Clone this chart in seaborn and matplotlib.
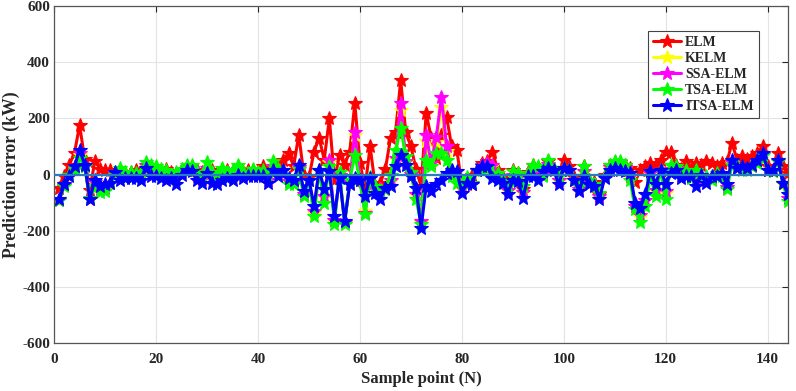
import numpy as np
import pandas as pd
import seaborn as sns
import matplotlib.pyplot as plt

# prediction errors (kW), sample points 1..144
elm = [-47, -5, 35, 78, 175, 55, -55, 50, 20, 15, 15, 0, 10, 5, 10, 15, 15, 20, 15, 15,
       15, 20, 10, 5, 15, 25, 15, 15, 10, 10, 15, 5, 10, 15, 10, 20, 10, 15, 15, 10,
       30, 5, 25, 35, 53, 76, 30, 141, 0, -10, 82, 130, 53, 200, -20, 70, 35, 82, 253, 41,
       -47, 100, -40, -30, 20, 129, 153, 335, 150, 100, 20, -41, 218, 130, 60, 140, 206, 100, 88, -35,
       -35, 0, 18, 41, 47, 82, 18, -10, -30, 15, 5, -50, 10, 35, 25, 10, 50, 20, -20, 53,
       30, -10, -40, 30, -20, -25, -70, 0, 35, 45, 45, 35, 25, -25, 15, 30, 41, 35, 53, 82,
       82, 35, 20, 47, 20, 41, 35, 47, 40, 30, 40, 45, 112, 53, 65, 55, 65, 76, 100, 30,
       12, 76, 30, 6]

kelm = [-90, -38, -3, 24, 70, 30, -86, -30, -52, -50, -30, 4, 4, 0, 0, -4, -5, 32, 14, 10,
        3, -3, -7, -14, 8, 24, 22, -6, -16, 22, -12, -20, 2, -2, -4, 15, -2, -2, 6, 2,
        3, -20, 30, 6, 14, -26, -28, 25, -70, -20, -135, 14, -80, 45, -165, -2, -172, -30, 140, -20,
        -130, -12, -55, -52, -52, -22, 55, 230, 45, 0, -72, -170, 120, 35, 115, 240, 85, 4, -12, -50,
        -22, -34, 16, 30, 34, 30, -8, -27, -58, -5, -12, -64, -2, 13, 4, 2, 35, 18, -22, 22,
        16, -20, -52, 10, -28, -40, -80, -10, 24, 33, 30, 22, -8, -112, -150, -92, 2, -58, 16, -64,
        18, 22, -5, 4, -10, -15, -5, -20, -14, -2, -2, -46, 40, 25, 22, 20, 30, 45, 72, 16,
        14, 48, -32, -85]

ssa_elm = [-90, -38, -3, 25, 75, 32, -86, -28, -50, -48, -30, 5, 5, 0, 0, -3, -4, 35, 15, 12,
           4, -2, -6, -12, 10, 26, 24, -4, -15, 25, -10, -18, 4, 0, -2, 18, 0, 0, 8, 3,
           5, -18, 32, 8, 16, -24, -26, 28, -68, -19, -130, 16, -76, 53, -162, 0, -170, -28, 153, -19,
           -135, -11, -53, -50, -50, -20, 60, 253, 50, 2, -68, -165, 141, 40, 135, 276, 100, 6, -9, -48,
           -20, -32, 18, 35, 40, 35, -6, -25, -55, -3, -10, -61, 0, 15, 6, 3, 38, 19, -20, 24,
           18, -18, -50, 12, -26, -38, -76, -8, 26, 35, 32, 24, -6, -110, -145, -90, 4, -55, 18, -60,
           20, 24, -3, 6, -8, -12, -3, -18, -12, 0, 0, -44, 44, 27, 24, 21, 32, 47, 73, 18,
           15, 50, -30, -82]

tsa_elm = [-92, -40, 0, 20, 60, 30, -85, -40, -62, -60, -30, 0, 25, 10, 10, 5, 10, 45, 35, 30,
           20, 15, 0, 10, 20, 35, 35, 10, 0, 45, 10, 0, 25, 10, 15, 35, 10, 5, 20, 10,
           15, -5, 47, 20, 15, -35, -35, 20, -76, -20, -147, 15, -100, 30, -176, 10, -176, -20, 70, -20,
           -141, -10, -41, -60, -53, 0, 88, 165, 65, 10, -88, -175, 53, 30, 76, 76, 53, -5, -30, -30,
           -10, -30, 18, 18, 24, 5, 5, -20, -41, 12, 5, -40, 5, 35, 30, -5, 53, 20, -5, 24,
           18, -18, -41, 30, -18, -35, -65, -5, 35, 47, 47, 35, -18, -123, -170, -112, -5, -76, 18, -88,
           35, 30, 5, 18, -12, 18, -5, -5, -18, 5, -5, -53, 35, 30, 18, 18, 30, 41, 70, 18,
           12, 47, -30, -94]

itsa_elm = [-88, -35, -5, 30, 88, 35, -88, -18, -40, -35, -30, 10, -18, -12, -12, -12, -18, 24, -5, -5,
            -12, -18, -12, -35, 0, 18, 12, -18, -30, 5, -30, -35, -18, -12, -18, 0, -12, -5, -5, -5,
            -5, -30, 18, -5, 18, -12, -18, 35, -60, -18, -112, 18, -53, 12, -147, -12, -165, -35, -12, -18,
            -76, -12, -65, -88, -47, -41, 30, 70, 35, -5, -47, -190, -41, -59, -35, -18, 5, 18, 12, -65,
            -30, -35, 18, 30, 30, -12, -18, -30, -70, -18, -24, -82, -5, -5, -18, 12, 24, 18, -35, 24,
            18, -18, -59, -5, -35, -41, -88, -12, 18, 24, 18, 12, 5, -100, -118, -70, 12, -35, 18, -35,
            5, 18, -12, -5, -5, -41, 0, -30, -5, -5, 5, -35, 53, 24, 30, 24, 35, 53, 76, 18,
            18, 53, -30, -70]

methods = ["ELM", "KELM", "SSA-ELM", "TSA-ELM", "ITSA-ELM"]
colors = ["#ff0000", "#ffff00", "#ff00ff", "#00ff00", "#0000ff"]
series = [elm, kelm, ssa_elm, tsa_elm, itsa_elm]
xticks = [0, 20, 40, 60, 80, 100, 120, 140]
yticks = [-600, -400, -200, 0, 200, 400, 600]

sample = np.arange(1, len(elm) + 1)
df = pd.DataFrame({"Sample": sample})
for m, s in zip(methods, series):
    df[m] = s

sns.set_style("whitegrid")
plt.rcParams["font.family"] = ["Liberation Serif", "DejaVu Serif"]
plt.rcParams["font.weight"] = "bold"
plt.rcParams["axes.unicode_minus"] = False

fig = plt.figure(figsize=(7.96, 3.91), dpi=100)
ax = fig.add_axes([0.068, 0.122, 0.922, 0.863])

for m, c in zip(methods, colors):
    sns.lineplot(data=df, x="Sample", y=m, color=c, label=m, linewidth=2.2,
                 marker="*", markersize=10, markeredgecolor=c, markeredgewidth=0.8, ax=ax)

ax.axhline(0, color="#2b7bc0", linewidth=1.6, zorder=6)

ax.set_xlim(0, 144)
ax.set_ylim(-600, 600)
ax.set_xticks(xticks)
ax.set_yticks(yticks)
ax.grid(True, color="#e3e3e3", linewidth=0.8)
ax.tick_params(direction="in", length=4, width=0.8, colors="#262626", labelsize=11,
               top=True, right=True)
ax.tick_params(axis="x", pad=7)
ax.tick_params(axis="y", pad=3)
for lab in ax.get_xticklabels() + ax.get_yticklabels():
    lab.set_fontweight("bold")
for sp in ax.spines.values():
    sp.set_color("#555555")
    sp.set_linewidth(0.9)

ax.set_xlabel("Sample point (N)", fontsize=12, fontweight="bold")
ax.xaxis.set_label_coords(0.5, -0.083)
ax.set_ylabel("Prediction error (kW)", fontsize=12.8, fontweight="bold")
ax.yaxis.set_label_coords(-0.046, 0.5)

leg = ax.legend(loc="upper right", bbox_to_anchor=(0.96, 0.925), borderaxespad=0,
                fancybox=False, edgecolor="#444444", framealpha=1, fontsize=10,
                handlelength=2.0, borderpad=0.35, labelspacing=0.22, handletextpad=0.3)
leg.get_frame().set_linewidth(0.8)
for t in leg.get_texts():
    t.set_fontweight("bold")

fig.savefig("out.png", dpi=100)
